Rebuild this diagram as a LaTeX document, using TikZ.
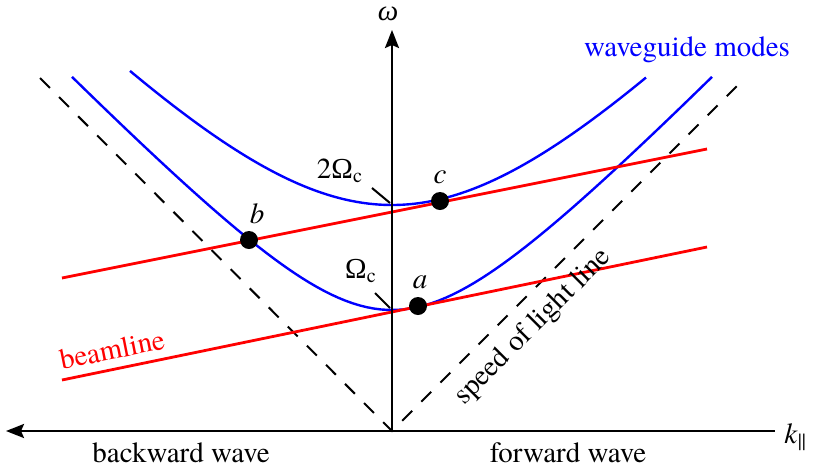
\documentclass[tikz,border=0pt]{standalone}
\usepackage{fontspec}
\setmainfont{texgyretermes}[Extension=.otf, UprightFont=*-regular, ItalicFont=*-italic, BoldFont=*-bold, BoldItalicFont=*-bolditalic]
\newfontfamily\greekfont{Liberation Serif}
\usetikzlibrary{arrows.meta}

\begin{document}
\begin{tikzpicture}[x=0.5pt, y=-0.5pt, font=\fontsize{14.5}{17}\selectfont,
  axis/.style={line width=1.2pt, -{Stealth[length=9pt, width=7pt, inset=1.5pt]}},
  light/.style={line width=1pt, dash pattern=on 7pt off 6.5pt},
  mode/.style={blue, line width=1.2pt},
  beam/.style={red, line width=1.4pt},
  dot/.style={circle, fill=black, inner sep=0pt, minimum size=9pt}]
  \useasboundingbox (0,0) rectangle (815,472);
  \coordinate (O) at (392,431);
  \coordinate (wtop) at (392,30);
  \coordinate (kleft) at (6,431);
  \coordinate (kright) at (775,431);
  \coordinate (lleft) at (40,78);
  \coordinate (lright) at (745,78);
  \draw[light] (lleft) -- (O) -- (lright);
  \draw[mode] plot[domain=-320:320, samples=90] ({392+\x}, {431-100*sqrt(1.21^2+(1.04*\x/100)^2)});
  \draw[mode] plot[domain=-262:254, samples=90] ({392+\x}, {431-100*sqrt(2.26^2+(1.07*\x/100)^2)});
  \coordinate (b1) at (62,380);
  \coordinate (b2) at (707,247);
  \coordinate (b3) at (62,278);
  \coordinate (b4) at (707,149);
  \draw[beam] (b1) -- (b2);
  \draw[beam] (b3) -- (b4);
  \draw[axis] (O) -- (wtop);
  \draw[axis, {Stealth[length=9pt, width=7pt, inset=1.5pt]}-] (kleft) -- (kright);
  \node[dot] (a) at (418,306) {};
  \node[dot] (b) at (249,240) {};
  \node[dot] (c) at (440,201) {};
  \node[anchor=base] (la) at (420,288) {\textit{a}};
  \node[anchor=base] (lb) at (257,223) {\textit{b}};
  \node[anchor=base] (lc) at (440,183) {\textit{c}};
  \node[anchor=base, inner sep=0pt] (w) at (388,20) {\greekfont\itshape ω};
  \node[anchor=base west, inner sep=0pt] (k) at (784,443) {\textit{k}\textsubscript{||}};
  \node[anchor=base] (two) at (340,178) {2{\greekfont Ω}\textsubscript{c}};
  \node[anchor=base] (one) at (361,278) {{\greekfont Ω}\textsubscript{c}};
  \coordinate (t2) at (372,188);
  \coordinate (t2e) at (390,203);
  \coordinate (t1) at (375,293);
  \coordinate (t1e) at (390,308);
  \draw[line width=1pt] (t2) -- (t2e);
  \draw[line width=1pt] (t1) -- (t1e);
  \node[anchor=base, blue] (modes) at (687,56) {waveguide modes};
  \node[anchor=base, red, rotate=11.3] (beamline) at (114,359) {beamline};
  \node[anchor=base, rotate=45] (speed) at (538,332) {speed of light line};
  \node[anchor=base] (back) at (181,462) {backward wave};
  \node[anchor=base] (fwd) at (568,462) {forward wave};
\end{tikzpicture}
\end{document}
